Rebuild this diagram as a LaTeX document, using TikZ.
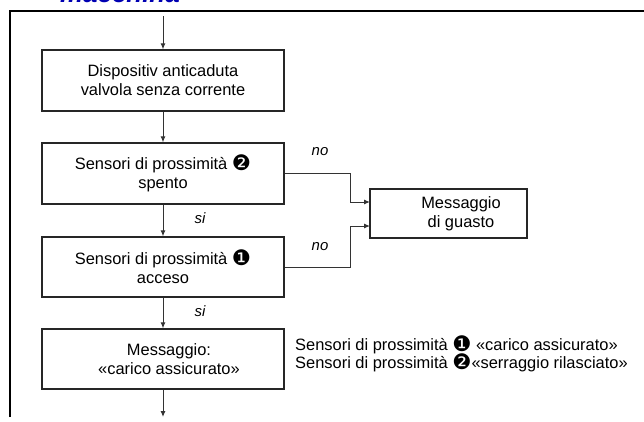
\documentclass[tikz,border=0pt]{standalone}
\usepackage{fontspec}
\setmainfont{Liberation Sans}
\newfontfamily\symfont{DejaVu Sans}
\usetikzlibrary{arrows.meta,calc}
\newcommand{\cone}{\raisebox{-0.12ex}{\scalebox{1.3}{\symfont\char"2776}}}
\newcommand{\ctwo}{\raisebox{-0.12ex}{\scalebox{1.3}{\symfont\char"2777}}}
\begin{document}
\begin{tikzpicture}[x=1bp,y=-1bp,
  every node/.style={font=\fontsize{16.5}{19}\selectfont},
  stepbox/.style={draw=black!85,line width=1.3bp,minimum width=242bp,minimum height=61bp,align=center,inner sep=0pt},
  conn/.style={draw=black!80,line width=1bp},
  arr/.style={conn,-{Latex[length=6bp,width=5bp]}},
  lbl/.style={font=\fontsize{15}{17}\selectfont\itshape},
  frame/.style={line width=2bp,black}]
\useasboundingbox (0,0) rectangle (644,421);
\clip (0,0) rectangle (644,421);
% title (cut off)
\node[anchor=base west,inner sep=0pt,text=blue!70!black,font=\fontsize{26}{30}\selectfont\bfseries\itshape] (title) at (60,2.5) {macchina};
% frame
\draw[frame] (10,417) -- (10,11) -- (644,11);
% boxes
\node[stepbox] (b1) at (163,80.5) {Dispositiv anticaduta\\valvola senza corrente};
\node[stepbox] (b2) at (163,173.5) {Sensori di prossimità \ctwo\\spento};
\node[stepbox,minimum height=60bp] (b3) at (163,267) {Sensori di prossimità \cone\\acceso};
\node[stepbox,minimum height=60bp] (b4) at (163,359) {\hspace*{12bp}Messaggio:\\\hspace*{12bp}«carico assicurato»};
\node[draw=black!85,line width=1.3bp,minimum width=157bp,minimum height=49bp,inner sep=0pt] (msg) at (448.5,213.5) {};
\node[align=center] (msgtext) at (461,213.5) {Messaggio\\di guasto};
% coordinates
\coordinate (top) at (163,16);
\coordinate (bot) at (163,417);
\coordinate (in1) at (370,202);
\coordinate (in2) at (370,226);
% connectors
\draw[arr] (top) -- (b1.north);
\draw[arr] (b1.south) -- (b2.north);
\draw[arr] (b2.south) -- (b3.north);
\draw[arr] (b3.south) -- (b4.north);
\draw[arr] (b4.south) -- (bot);
\draw[arr] (b2.east) -- (350,173.5) |- (in1);
\draw[arr] (b3.east) -- (350,267) |- (in2);
% labels
\node[lbl] (no1) at (320,152) {no};
\node[lbl] (no2) at (320,247) {no};
\node[lbl] (si1) at (200,218) {si};
\node[lbl] (si2) at (200,311) {si};
% legend
\node[anchor=west,align=left,inner sep=0pt,font=\fontsize{16.5}{18.5}\selectfont] (legend) at (295,354) {Sensori di prossimità \cone\ «carico assicurato»\\Sensori di prossimità \ctwo«serraggio rilasciato»};
\end{tikzpicture}
\end{document}
